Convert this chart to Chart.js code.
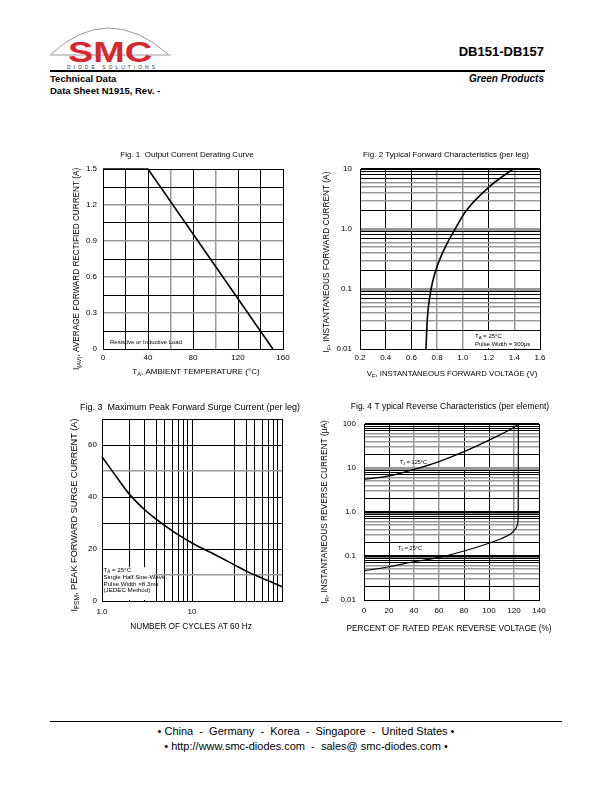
<!DOCTYPE html>
<html>
<head>
<meta charset="utf-8">
<script src="https://cdn.jsdelivr.net/npm/chart.js@4.4.1/dist/chart.umd.min.js"></script>
<style>
  body { margin: 0; background: #fff; font-family: 'Liberation Sans', Arial, sans-serif; color: #000; }
  #page { position: relative; width: 612px; height: 792px; overflow: hidden; }
  .abs { position: absolute; white-space: nowrap; }
  canvas { position: absolute; }
</style>
</head>
<body>
<div id="page">
  <svg class="abs" style="left:40px; top:24px" width="140" height="48">
    <path d="M11 30 Q 68 -22 128 30" stroke="#9a9a9a" fill="none" stroke-width="1"/>
    <line x1="10" y1="31" x2="131" y2="31" stroke="#9a9a9a" stroke-width="1"/>
    <text x="28" y="38" font-family="Liberation Sans" font-weight="bold" font-size="29" fill="#d7282f"
          textLength="84" lengthAdjust="spacingAndGlyphs">SMC</text>
    <text x="27" y="45" font-family="Liberation Sans" font-size="5" fill="#333"
          textLength="88" lengthAdjust="spacing">DIODE SOLUTIONS</text>
  </svg>
  <div class="abs" style="right:68px; top:44px; font-weight:bold; font-size:13px;">DB151-DB157</div>
  <div class="abs" style="left:50px; top:70px; width:495px; height:2px; background:#000;"></div>
  <div class="abs" style="left:50px; top:73px; font-weight:bold; font-size:9.5px; line-height:12px;">Technical Data<br>Data Sheet N1915, Rev. -</div>
  <div class="abs" style="right:68px; top:73px; font-weight:bold; font-style:italic; font-size:10px; line-height:12px;">Green Products</div>

  <canvas id="fig1" width="280" height="255"></canvas>
  <canvas id="fig2" width="290" height="255"></canvas>
  <canvas id="fig3" width="280" height="245"></canvas>
  <canvas id="fig4" width="290" height="245"></canvas>

  <div class="abs" style="left:50px; top:721px; width:512px; height:1px; background:#000;"></div>
  <div class="abs" style="left:0; width:612px; top:724px; text-align:center; font-size:11px; line-height:15px;">
    &bull; China &nbsp;- &nbsp;Germany &nbsp;- &nbsp;Korea &nbsp;- &nbsp;Singapore &nbsp;- &nbsp;United States &bull;<br>
    &bull; http://www.smc-diodes.com &nbsp;- &nbsp;sales@ smc-diodes.com &bull;
  </div>
</div>
<script>
// ---- data ----
const fig1Temp = [0, 40, 151];
const fig1Current = [1.5, 1.5, 0];
const fig1XLabels = ['0', '40', '80', '120', '160'];
const fig1YLabels = ['0', '0.3', '0.6', '0.9', '1.2', '1.5'];

const fig2Voltage = [0.713, 0.723, 0.753, 0.788, 0.817, 0.863, 0.94, 1.024, 1.203, 1.39];
const fig2Current = [0.01, 0.03, 0.1, 0.2, 0.3, 0.5, 1.0, 2.0, 5.0, 10];
const fig2XLabels = ['0.2', '0.4', '0.6', '0.8', '1.0', '1.2', '1.4', '1.6'];
const fig2YLabels = ['0.01', '0.1', '1.0', '10'];

const fig3Cycles = [1, 1.5, 2, 3, 4, 5, 7, 10, 20, 30, 40, 60, 100];
const fig3Surge = [55.5, 47, 41.2, 35, 31.5, 29, 25.5, 22.3, 17, 13.8, 11.5, 8.8, 5.5];
const fig3XLabels = ['1.0', '10'];
const fig3YLabels = ['0', '20', '40', '60'];

const fig4Percent125 = [0, 20, 40, 60, 80, 100, 120, 123.5];
const fig4Current125 = [5.5, 6.6, 9.3, 14, 23.5, 43, 84, 100];
const fig4Percent25 = [0, 20, 40, 60, 80, 100, 110, 118, 121.5, 123, 123.4, 123.5];
const fig4Current25 = [0.046, 0.057, 0.074, 0.093, 0.13, 0.195, 0.25, 0.33, 0.42, 0.55, 1.5, 100];
const fig4XLabels = ['0', '20', '40', '60', '80', '100', '120', '140'];
const fig4YLabels = ['0.01', '0.1', '1.0', '10', '100'];

const FONT = '"Liberation Sans", Arial, sans-serif';
const GRAY = '#999';

function pickLabel(list) {
  return (value) => {
    const hit = list.find(l => Math.abs(Number(l) - value) < 1e-6 * Math.max(1, Math.abs(value)));
    return hit === undefined ? '' : hit;
  };
}

function pts(xs, ys) {
  return xs.map((x, i) => ({ x: x, y: ys[i] }));
}

// log grid: 1..9 per decade
function logGrid(min, max, skip) {
  const out = [];
  for (let e = Math.round(Math.log10(min)); e < Math.round(Math.log10(max)); e++) {
    for (let m = 1; m <= 9; m++) {
      const v = Number((m * Math.pow(10, e)).toPrecision(6));
      if (!skip || skip.indexOf(v) < 0) out.push(v);
    }
  }
  out.push(max);
  return out;
}

function mantissa(v) {
  return Math.round(v / Math.pow(10, Math.floor(Math.log10(v) + 1e-9)));
}

function runs(str) {
  const out = [];
  str.split(/(_\{[^}]*\})/).forEach(s => {
    if (!s) return;
    if (s.startsWith('_{')) out.push({ t: s.slice(2, -1), sub: true });
    else out.push({ t: s });
  });
  return out;
}

function drawRuns(ctx, t, box) {
  const size = t.size || 8;
  ctx.save();
  ctx.translate(t.x - box[0], t.y - box[1]);
  if (t.rotate) ctx.rotate(-Math.PI / 2);
  ctx.fillStyle = '#000';
  ctx.textBaseline = 'middle';
  ctx.textAlign = 'left';
  const parts = runs(t.text).map(r => {
    const s = r.sub ? size * 0.72 : size;
    ctx.font = s + 'px ' + FONT;
    return { text: r.t, s: s, w: ctx.measureText(r.t).width, sub: r.sub };
  });
  const total = parts.reduce((a, p) => a + p.w, 0);
  let cx = t.align === 'left' ? 0 : (t.align === 'right' ? -total : -total / 2);
  parts.forEach(p => {
    ctx.font = p.s + 'px ' + FONT;
    ctx.fillText(p.text, cx, p.sub ? size * 0.3 : 0);
    cx += p.w;
  });
  ctx.restore();
}

function sheetText(spec) {
  return {
    id: 'sheetText',
    beforeDatasetsDraw(chart) {
      const ctx = chart.ctx;
      const xs = chart.scales.x, ys = chart.scales.y;
      (spec.boxes || []).forEach(b => {
        const x0 = xs.getPixelForValue(b.x[0]), x1 = xs.getPixelForValue(b.x[1]);
        const y0 = ys.getPixelForValue(b.y[1]), y1 = ys.getPixelForValue(b.y[0]);
        ctx.save();
        ctx.fillStyle = '#fff';
        ctx.fillRect(Math.min(x0, x1) + 1, y0, Math.abs(x1 - x0) - 2, y1 - y0 - 1);
        ctx.restore();
      });
    },
    afterDraw(chart) {
      spec.texts.forEach(t => drawRuns(chart.ctx, t, spec.box));
    }
  };
}

function buildScale(axis, box, plot, gridFn, labels, pad, isX) {
  const ticks = {
    font: { family: FONT, size: 8 }, color: '#000', padding: pad,
    autoSkip: false, maxRotation: 0, minRotation: 0,
    callback: pickLabel(labels)
  };
  if (axis.stepSize) ticks.stepSize = axis.stepSize;
  const scale = {
    type: axis.type, min: axis.min, max: axis.max,
    position: isX ? 'bottom' : 'left',
    afterFit: isX ? (s => { s.height = box[1] + box[3] - plot[3]; })
                  : (s => { s.width = plot[0] - box[0]; }),
    border: { display: true, color: '#000', width: 1 },
    grid: {
      drawTicks: false,
      color: c => gridFn(c.tick.value).color,
      lineWidth: c => gridFn(c.tick.value).width
    },
    ticks: ticks
  };
  if (axis.grid) scale.afterBuildTicks = s => { s.ticks = axis.grid.map(v => ({ value: v })); };
  return scale;
}

function makeChart(spec) {
  const canvas = document.getElementById(spec.id);
  const box = spec.box, plot = spec.plot;
  canvas.style.left = box[0] + 'px';
  canvas.style.top = box[1] + 'px';

  return new Chart(canvas, {
    type: 'scatter',
    data: { datasets: spec.datasets },
    options: {
      responsive: false,
      animation: false,
      devicePixelRatio: 1,
      layout: { padding: { left: 0, top: plot[1] - box[1], right: box[0] + box[2] - plot[2], bottom: 0 } },
      plugins: { legend: { display: false }, tooltip: { enabled: false }, title: { display: false } },
      scales: {
        x: buildScale(spec.x, box, plot, spec.xGrid, spec.xLabels, spec.xPad, true),
        y: buildScale(spec.y, box, plot, spec.yGrid, spec.yLabels, spec.yPad, false)
      }
    },
    plugins: [sheetText(spec)]
  });
}

function curve(data, width, mode, tension) {
  return {
    data: data, showLine: true, borderColor: '#000', borderWidth: width,
    pointRadius: 0, fill: false, clip: 3,
    tension: tension || 0, cubicInterpolationMode: mode || 'default'
  };
}

const black = { color: '#000', width: 1 };
const gray = { color: GRAY, width: 1.5 };
const heavy = { color: '#000', width: 2 };

function logGridStyle(decades) {
  return v => {
    const m = mantissa(v);
    if (m === 1 || m === 10) {
      const d = decades[String(v)];
      return d || black;
    }
    return (m >= 3 && m <= 6) ? gray : black;
  };
}

// Fig. 1
makeChart({
  id: 'fig1', box: [30, 140, 280, 255], plot: [103, 169, 283, 349],
  xLabels: fig1XLabels, yLabels: fig1YLabels, xPad: 4, yPad: 6,
  x: { type: 'linear', min: 0, max: 160, stepSize: 20 },
  y: { type: 'linear', min: 0, max: 1.5, stepSize: 0.15 },
  xGrid: v => ([60, 100].indexOf(Math.round(v)) >= 0 ? gray : black),
  yGrid: v => {
    const k = Math.round(v / 0.15);
    return (k % 2 === 0 && k > 0 && k < 10) ? gray : black;
  },
  datasets: [curve(pts(fig1Temp, fig1Current), 1.6)],
  texts: [
    { text: 'Fig. 1  Output Current Derating Curve', x: 187, y: 155 },
    { text: 'T_{A}, AMBIENT TEMPERATURE (°C)', x: 196, y: 372 },
    { text: 'I_{(AV)}, AVERAGE FORWARD RECTIFIED CURRENT (A)', x: 77, y: 269, rotate: true, size: 8.2 },
    { text: 'Resistive or Inductive Load', x: 110, y: 342, align: 'left', size: 6 }
  ]
});

// Fig. 2
makeChart({
  id: 'fig2', box: [310, 140, 290, 255], plot: [360, 169, 540, 349],
  xLabels: fig2XLabels, yLabels: fig2YLabels, xPad: 4, yPad: 8,
  x: { type: 'linear', min: 0.2, max: 1.6, stepSize: 0.2 },
  y: { type: 'logarithmic', min: 0.01, max: 10, grid: logGrid(0.01, 10) },
  xGrid: v => ([0.8, 1.0, 1.4].some(g => Math.abs(g - v) < 1e-6) ? gray : black),
  yGrid: logGridStyle({ '0.1': { color: GRAY, width: 3 }, '1': { color: GRAY, width: 3 }, '10': heavy }),
  boxes: [{ x: [1.07, 1.6], y: [0.01, 0.02] }],
  datasets: [curve(pts(fig2Voltage, fig2Current), 1.6, 'monotone')],
  texts: [
    { text: 'Fig. 2 Typical Forward Characteristics (per leg)', x: 446, y: 155 },
    { text: 'V_{F}, INSTANTANEOUS FORWARD VOLTAGE (V)', x: 452, y: 374, size: 7.8 },
    { text: 'I_{F}, INSTANTANEOUS FORWARD CURRENT (A)', x: 327, y: 262, rotate: true, size: 8.3 },
    { text: 'T_{A} = 25°C', x: 475, y: 336, align: 'left', size: 6 },
    { text: 'Pulse Width = 300µs', x: 475, y: 344.5, align: 'left', size: 6 }
  ]
});

// Fig. 3
makeChart({
  id: 'fig3', box: [30, 395, 280, 245], plot: [102, 419, 282, 601],
  xLabels: fig3XLabels, yLabels: fig3YLabels, xPad: 6, yPad: 5,
  x: { type: 'logarithmic', min: 1, max: 100, grid: logGrid(1, 100, [20]) },
  y: { type: 'linear', min: 0, max: 70, stepSize: 10 },
  xGrid: () => black,
  yGrid: v => ([10, 50].indexOf(Math.round(v)) >= 0 ? gray : black),
  boxes: [{ x: [1, 3.9], y: [0, 13] }],
  datasets: [curve(pts(fig3Cycles, fig3Surge), 1.6, 'monotone')],
  texts: [
    { text: 'Fig. 3  Maximum Peak Forward Surge Current (per leg)', x: 190, y: 408, size: 9 },
    { text: 'NUMBER OF CYCLES AT 60 Hz', x: 191, y: 627, size: 8.3 },
    { text: 'I_{FSM}, PEAK FORWARD SURGE CURRENT (A)', x: 74, y: 515, rotate: true, size: 9.2 },
    { text: 'T_{A} = 25°C', x: 103.5, y: 570, align: 'left', size: 6.2 },
    { text: 'Single Half Sine-Wave', x: 103.5, y: 577.5, align: 'left', size: 6.2 },
    { text: 'Pulse Width =8.3ms', x: 103.5, y: 584, align: 'left', size: 6.2 },
    { text: '(JEDEC Method)', x: 103.5, y: 590.5, align: 'left', size: 6.2 }
  ]
});

// Fig. 4
makeChart({
  id: 'fig4', box: [310, 395, 290, 245], plot: [364, 424, 539, 600],
  xLabels: fig4XLabels, yLabels: fig4YLabels, xPad: 6, yPad: 8,
  x: { type: 'linear', min: 0, max: 140, stepSize: 20 },
  y: { type: 'logarithmic', min: 0.01, max: 100, grid: logGrid(0.01, 100) },
  xGrid: v => ([40, 60, 120].indexOf(Math.round(v)) >= 0 ? gray : black),
  yGrid: logGridStyle({ '0.1': { color: '#000', width: 2.5 }, '1': { color: '#000', width: 2.5 },
                        '10': { color: GRAY, width: 3 }, '100': heavy }),
  datasets: [
    curve(pts(fig4Percent125, fig4Current125), 1.2, 'monotone'),
    curve(pts(fig4Percent25, fig4Current25), 1.2, 'monotone')
  ],
  texts: [
    { text: 'Fig. 4 T ypical Reverse Characteristics (per element)', x: 450, y: 407, size: 8.5 },
    { text: 'PERCENT OF RATED PEAK REVERSE VOLTAGE (%)', x: 449, y: 629, size: 8.3 },
    { text: 'I_{R}, INSTANTANEOUS REVERSE CURRENT (µA)', x: 325, y: 512, rotate: true, size: 8.3 },
    { text: 'T_{J} = 125°C', x: 400, y: 462, align: 'left', size: 5.5 },
    { text: 'T_{J} = 25°C', x: 398, y: 548, align: 'left', size: 5.5 }
  ]
});
</script>
</body>
</html>
